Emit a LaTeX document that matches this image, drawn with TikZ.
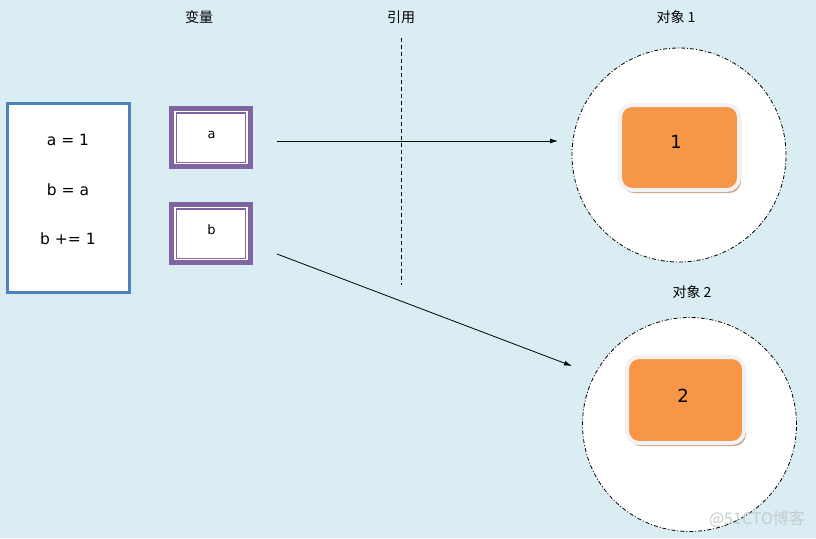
\documentclass[tikz,border=0pt]{standalone}
\usepackage{fontspec}
\setmainfont{DejaVu Sans}
\newfontfamily\cjk{Noto Sans CJK SC}
\usetikzlibrary{arrows.meta,shadows}
\definecolor{bgblue}{HTML}{DAEDF3}
\definecolor{codeblue}{HTML}{4F81BD}
\definecolor{varpurple}{HTML}{8064A2}
\definecolor{objorange}{HTML}{F79646}
\definecolor{objrim}{HTML}{F2F2F2}
\definecolor{objshade}{HTML}{C9A27F}
\definecolor{markgray}{HTML}{C3CCD0}

\begin{document}
\begin{tikzpicture}[x=1pt,y=-1pt]
    \tikzstyle{title}=[font=\cjk\fontsize{14}{16}\selectfont,inner sep=0pt]
    \tikzstyle{codebox}=[draw=codeblue,line width=3pt,fill=white,minimum width=122pt,minimum height=189pt]
    \tikzstyle{codeline}=[font=\fontsize{15.5}{18}\selectfont,inner sep=0pt,anchor=base]
    \tikzstyle{varbox}=[draw=varpurple,line width=5pt,fill=white,minimum width=79pt,minimum height=58pt,inner sep=0pt]
    \tikzstyle{varrim}=[draw=varpurple,line width=1.3pt,minimum width=69.5pt,minimum height=49.5pt,inner sep=0pt]
    \tikzstyle{varname}=[font=\fontsize{13}{15}\selectfont,inner sep=0pt,anchor=base]
    \tikzstyle{object}=[circle,draw=black,fill=white,line width=0.8pt,dash pattern=on 4pt off 2pt on 1pt off 2pt,minimum size=214pt,inner sep=0pt]
    \tikzstyle{value}=[rounded corners=12pt,draw=objrim,line width=4pt,fill=objorange,drop shadow={shadow xshift=2pt,shadow yshift=-3pt,fill=objshade,opacity=1},inner sep=0pt]
    \tikzstyle{valnum}=[font=\fontsize{18}{21}\selectfont,inner sep=0pt,anchor=base]
    \tikzstyle{ref}=[-{Latex[length=8pt,width=5pt]},line width=0.8pt]

    % background
    \fill[bgblue] (0,0) rectangle (816,538);
    \useasboundingbox (0,0) rectangle (816,538);

    % headings
    \node (tvar)[title] at (199,17) {变量};
    \node (tref)[title] at (401,17) {引用};
    \node (tobja)[title] at (676,17) {对象 1};
    \node (tobjb)[title] at (692,292) {对象 2};

    % code
    \node (code)[codebox] at (68.5,198) {};
    \node (la)[codeline] at (68,145) {a = 1};
    \node (lb)[codeline] at (68,195) {b = a};
    \node (lc)[codeline] at (68,244) {b += 1};

    % variables
    \node (va)[varbox] at (211,137.5) {};
    \node (vainner)[varrim] at (211,137.7) {};
    \node (vaname)[varname] at (211.5,138) {a};
    \node (vb)[varbox] at (211,233.5) {};
    \node (vbinner)[varrim] at (211,233.7) {};
    \node (vbname)[varname] at (211.5,234) {b};

    % reference line
    \coordinate (reftop) at (401,38);
    \coordinate (refbot) at (401,285);
    \draw[line width=0.8pt,dash pattern=on 4pt off 3pt] (reftop) -- (refbot);

    % objects
    \node (obja)[object] at (679,155) {};
    \node (vala)[value,minimum width=119pt,minimum height=85pt] at (679.5,147.5) {};
    \node (numa)[valnum] at (676,148) {1};
    \node (objb)[object] at (689.5,424.5) {};
    \node (valb)[value,minimum width=117pt,minimum height=86pt] at (685.5,400) {};
    \node (numb)[valnum] at (683,402) {2};

    % references
    \coordinate (aout) at (277,141);
    \coordinate (ain) at (558,141);
    \coordinate (bout) at (277,254);
    \coordinate (bin) at (572,366);
    \draw[ref] (aout) -- (ain);
    \draw[ref] (bout) -- (bin);

    \node (mark)[font=\cjk\fontsize{16}{18}\selectfont,text=markgray,inner sep=0pt] at (757,519) {@51CTO博客};
\end{tikzpicture}
\end{document}
